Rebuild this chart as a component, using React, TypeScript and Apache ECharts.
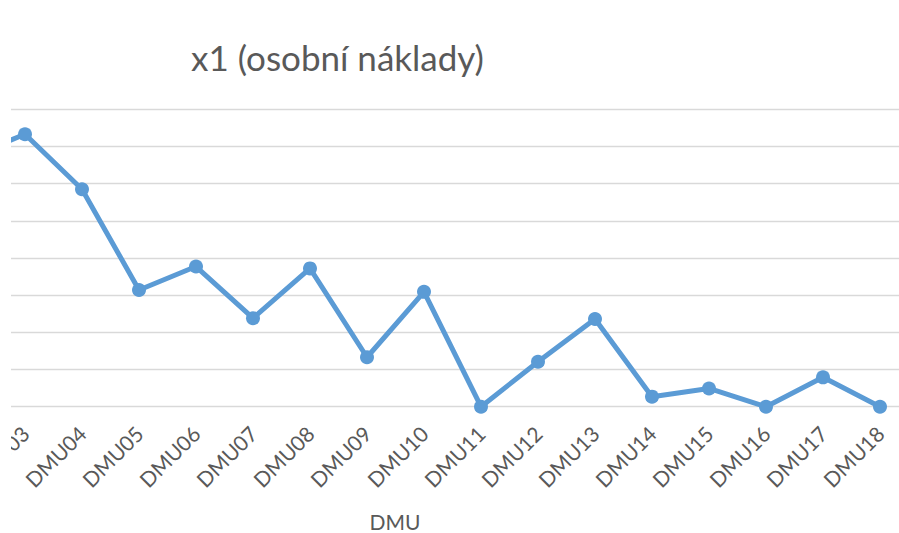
import React, { useEffect, useRef } from "react";
import * as echarts from "echarts";

const categories = [
  "DMU02", "DMU03", "DMU04", "DMU05", "DMU06", "DMU07", "DMU08", "DMU09", "DMU10",
  "DMU11", "DMU12", "DMU13", "DMU14", "DMU15", "DMU16", "DMU17", "DMU18",
];
const values = [6.7, 7.33, 5.85, 3.14, 3.77, 2.38, 3.72, 1.33, 3.09, 0, 1.21, 2.36, 0.27, 0.49, 0, 0.79, 0];
const titleText = "x1 (osobní náklady)";
const axisName = "DMU";

const FONT = "Lato, 'Open Sans', sans-serif";
const GRAY = "#595959";

export default function App() {
  const ref = useRef<HTMLDivElement>(null);
  useEffect(() => {
    if (!ref.current) return;
    const chart = echarts.init(ref.current, undefined, { renderer: "svg" });
    chart.setOption({
      animation: false,
      backgroundColor: "#ffffff",
      grid: { left: 39.5, width: 969, top: 109.3, height: 297.4 },
      xAxis: {
        type: "category",
        data: categories,
        boundaryGap: true,
        axisLine: { show: false },
        axisTick: { show: false },
        axisLabel: {
          rotate: 45,
          interval: 0,
          margin: 23,
          color: GRAY,
          fontSize: 21,
          fontFamily: FONT,
        },
        splitLine: { show: false },
      },
      yAxis: {
        type: "value",
        min: 0,
        max: 8,
        interval: 1,
        axisLabel: { show: false },
        axisLine: { show: false },
        axisTick: { show: false },
        splitLine: { show: true, lineStyle: { color: "#d9d9d9", width: 1.4 } },
      },
      graphic: [
        {
          type: "text",
          x: 437.5,
          y: 57,
          style: {
            text: titleText,
            fill: GRAY,
            fontSize: 35,
            fontFamily: FONT,
            textAlign: "center",
            textVerticalAlign: "middle",
          },
        },
        {
          type: "text",
          x: 495,
          y: 521,
          style: {
            text: axisName,
            fill: GRAY,
            fontSize: 21,
            fontFamily: FONT,
            textAlign: "center",
            textVerticalAlign: "middle",
          },
        },
      ],
      series: [
        {
          type: "line",
          data: values,
          symbol: "circle",
          symbolSize: 14,
          itemStyle: { color: "#5B9BD5" },
          lineStyle: { color: "#5B9BD5", width: 5 },
        },
      ],
    });
    return () => chart.dispose();
  }, []);
  return (
    <div style={{ position: "fixed", left: 0, top: 0, width: 899, height: 533, background: "#fff" }}>
      <div style={{ position: "absolute", left: 11, top: 0, width: 888, height: 533, overflow: "hidden" }}>
        <div ref={ref} style={{ position: "absolute", left: -111, top: 0, width: 1100, height: 533 }} />
      </div>
    </div>
  );
}
